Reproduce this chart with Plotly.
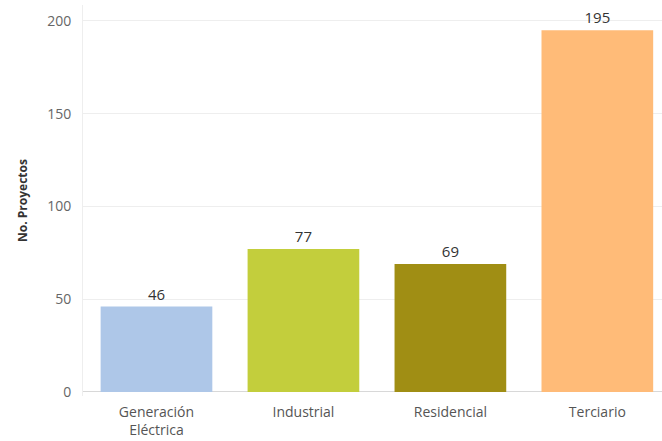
import plotly.graph_objects as go

categories = ["Generación<br>Eléctrica", "Industrial", "Residencial", "Terciario"]
proyectos = [46, 77, 69, 195]
colores = ["#aec7e8", "#c3ce3c", "#a08e14", "#ffbb78"]

fig = go.Figure(go.Bar(
    x=list(range(len(categories))),
    y=proyectos,
    marker=dict(color=colores, line=dict(width=0)),
    text=[str(v) for v in proyectos],
    textposition="outside",
    textfont=dict(size=15, color="#333333"),
    cliponaxis=False,
    width=0.76,
))

fig.update_layout(
    width=662, height=441,
    margin=dict(l=83, r=0, t=5, b=45),
    plot_bgcolor="white", paper_bgcolor="white",
    font=dict(family="Open Sans, Noto Sans, sans-serif"),
    showlegend=False,
    xaxis=dict(
        tickmode="array",
        tickvals=list(range(len(categories))),
        ticktext=categories,
        range=[-0.5, 3.44],
        showgrid=False,
        zeroline=False,
        showline=False,
        tickfont=dict(size=14, color="#555555"),
        ticks="",
        ticklabelstandoff=6,
    ),
    yaxis=dict(
        range=[-2.2, 208.6],
        tickvals=[0, 50, 100, 150, 200],
        showgrid=True,
        gridcolor="#eeeeee",
        zeroline=True,
        zerolinecolor="#d8d8d8",
        zerolinewidth=1,
        showline=True,
        linecolor="#eeeeee",
        tickfont=dict(size=14, color="#666666"),
        ticks="",
        ticklabelstandoff=8,
        title=dict(text="<b>No. Proyectos</b>", font=dict(size=12, color="#333333"), standoff=16),
    ),
)

fig.write_html("out.html")
